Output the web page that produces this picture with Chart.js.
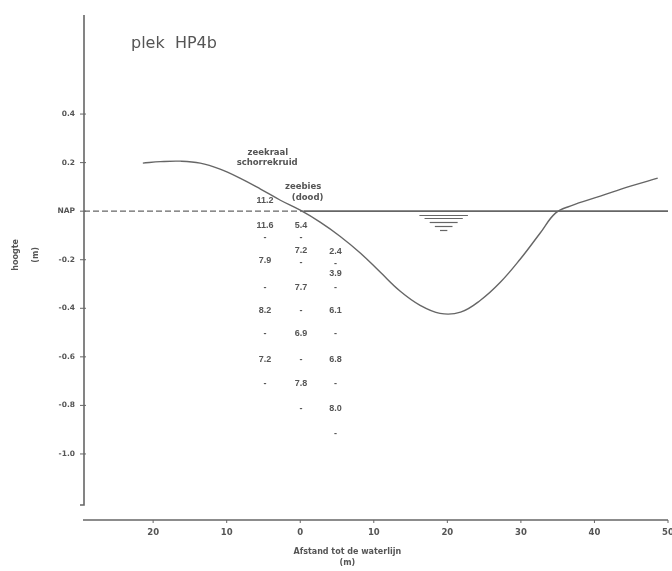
<!DOCTYPE html>
<html>
<head>
<meta charset="utf-8">
<script src="https://cdn.jsdelivr.net/npm/chart.js@4.4.1/dist/chart.umd.min.js"></script>
<style>
  html, body { margin: 0; padding: 0; background: #ffffff; }
  #wrap { width: 672px; height: 571px; position: relative; }
</style>
</head>
<body>
<div id="wrap"><canvas id="c" width="672" height="571"></canvas></div>
<script>
// ---- data ----
const chartTitle = 'plek  HP4b';
const profileDist   = [-21.4, -19.0, -16.3, -13.6, -10.9, -8.2, -5.4, -2.7, 0.0, 2.7, 5.4, 8.2, 10.9, 13.6, 16.3, 19.0, 21.8, 24.5, 27.2, 29.9, 32.6, 34.7, 36.7, 40.8, 44.9, 48.6];
const profileHeight = [0.198, 0.204, 0.206, 0.198, 0.173, 0.136, 0.091, 0.045, 0.004, -0.045, -0.103, -0.173, -0.252, -0.330, -0.388, -0.421, -0.416, -0.367, -0.293, -0.198, -0.091, -0.008, 0.021, 0.062, 0.103, 0.136];

const napDashedDist = [-29.4, 0.5];
const napSolidDist  = [0.5, 50];
const napLevel = 0;

const xTickValues = [-20, -10, 0, 10, 20, 30, 40, 50];
const yTickValues = [0.4, 0.2, 0, -0.2, -0.4, -0.6, -0.8, -1.0];
const yTickLabels = ['0.4', '0.2', 'NAP', '-0.2', '-0.4', '-0.6', '-0.8', '-1.0'];

// vegetation labels
const vegNames   = ['zeekraal', 'schorrekruid', 'zeebies', '(dood)'];
const vegDist    = [-4.4, -4.5, 0.4, 1.0];
const vegHeight  = [0.239, 0.198, 0.099, 0.054];

// measurement columns
const colDist = [-4.8, 0.1, 4.8];
const col1Labels  = ['11.2', '11.6', '-', '7.9', '-', '8.2', '-', '7.2', '-'];
const col1Heights = [0.045, -0.058, -0.107, -0.202, -0.313, -0.408, -0.503, -0.610, -0.709];
const col2Labels  = ['5.4', '-', '7.2', '-', '7.7', '-', '6.9', '-', '7.8', '-'];
const col2Heights = [-0.058, -0.107, -0.161, -0.212, -0.313, -0.408, -0.503, -0.610, -0.709, -0.812];
const col3Labels  = ['2.4', '-', '3.9', '-', '6.1', '-', '6.8', '-', '8.0', '-'];
const col3Heights = [-0.165, -0.214, -0.256, -0.313, -0.408, -0.503, -0.610, -0.709, -0.812, -0.915];

// water symbol (centre, levels, half widths in metres)
const waterCentre = 19.5;
const waterLevels = [-0.015, -0.029, -0.045, -0.061, -0.077];
const waterHalfWidths = [3.3, 2.6, 1.9, 1.2, 0.5];

const xTitle = 'Afstand tot de waterlijn';
const xTitleUnit = '(m)';
const yTitle = 'hoogte';
const yTitleUnit = '(m)';

// ---- chart ----
const INK = '#555555';
const LINE = '#666666';

const toPts = (xs, ys) => xs.map((x, i) => ({ x: x, y: ys[i] }));

const decorPlugin = {
  id: 'decor',
  beforeDraw(chart) {
    const ctx = chart.ctx;
    ctx.save();
    ctx.fillStyle = '#ffffff';
    ctx.fillRect(0, 0, chart.width, chart.height);
    ctx.restore();
  },
  afterDraw(chart) {
    const ctx = chart.ctx;
    const xs = chart.scales.x, ys = chart.scales.y;
    const a = chart.chartArea;
    ctx.save();
    // axes lines
    ctx.strokeStyle = LINE;
    ctx.lineWidth = 1.6;
    ctx.beginPath();
    ctx.moveTo(a.left, a.top);
    ctx.lineTo(a.left, a.bottom - 15);
    ctx.lineTo(a.left - 4, a.bottom - 15);
    ctx.stroke();
    ctx.beginPath();
    ctx.moveTo(a.left - 1, a.bottom);
    ctx.lineTo(a.right, a.bottom);
    ctx.stroke();
    // y tick marks crossing the axis
    ctx.lineWidth = 1;
    yTickValues.forEach(v => {
      const py = ys.getPixelForValue(v);
      ctx.beginPath();
      ctx.moveTo(a.left - 4, py);
      ctx.lineTo(a.left + 2, py);
      ctx.stroke();
    });
    // x tick marks
    xTickValues.forEach(v => {
      const px = xs.getPixelForValue(v);
      ctx.beginPath();
      ctx.moveTo(px, a.bottom);
      ctx.lineTo(px, a.bottom + 3);
      ctx.stroke();
    });

    // water symbol
    ctx.strokeStyle = LINE;
    ctx.lineWidth = 1.2;
    waterLevels.forEach((lv, i) => {
      const py = Math.round(ys.getPixelForValue(lv)) + 0.5;
      ctx.beginPath();
      ctx.moveTo(xs.getPixelForValue(waterCentre - waterHalfWidths[i]), py);
      ctx.lineTo(xs.getPixelForValue(waterCentre + waterHalfWidths[i]), py);
      ctx.stroke();
    });

    // title
    ctx.fillStyle = INK;
    ctx.textBaseline = 'middle';
    ctx.textAlign = 'left';
    ctx.font = '16px "DejaVu Sans"';
    ctx.fillText(chartTitle, 131, 44);

    // vegetation names
    ctx.textAlign = 'center';
    ctx.font = 'bold 8.5px "DejaVu Sans"';
    vegNames.forEach((t, i) => {
      ctx.fillText(t, xs.getPixelForValue(vegDist[i]), ys.getPixelForValue(vegHeight[i]));
    });

    // measurement columns
    ctx.font = 'bold 9px "Liberation Sans"';
    const cols = [[col1Labels, col1Heights], [col2Labels, col2Heights], [col3Labels, col3Heights]];
    cols.forEach((c, ci) => {
      c[0].forEach((t, i) => {
        ctx.fillText(t, xs.getPixelForValue(colDist[ci]), ys.getPixelForValue(c[1][i]));
      });
    });

    // y axis title (rotated)
    ctx.font = 'bold 8px "DejaVu Sans"';
    const ymid = ys.getPixelForValue(-0.18);
    ctx.save();
    ctx.translate(16, ymid);
    ctx.rotate(-Math.PI / 2);
    ctx.fillText(yTitle, 0, 0);
    ctx.restore();
    ctx.save();
    ctx.translate(36, ymid);
    ctx.rotate(-Math.PI / 2);
    ctx.fillText(yTitleUnit, 0, 0);
    ctx.restore();

    // x axis title
    ctx.font = 'bold 8px "DejaVu Sans"';
    const xmid = xs.getPixelForValue(6.4);
    ctx.fillText(xTitle, xmid, 552);
    ctx.fillText(xTitleUnit, xmid, 563);
    ctx.restore();
  }
};

new Chart(document.getElementById('c'), {
  type: 'line',
  data: {
    datasets: [
      {
        label: 'profiel',
        data: toPts(profileDist, profileHeight),
        borderColor: LINE,
        borderWidth: 1.4,
        pointRadius: 0,
        tension: 0.4,
        fill: false
      },
      {
        label: 'NAP (land)',
        data: toPts(napDashedDist, napDashedDist.map(() => napLevel)),
        borderColor: LINE,
        borderWidth: 1.4,
        borderDash: [6, 3],
        pointRadius: 0
      },
      {
        label: 'NAP (water)',
        data: toPts(napSolidDist, napSolidDist.map(() => napLevel)),
        borderColor: LINE,
        borderWidth: 1.6,
        pointRadius: 0
      }
    ]
  },
  options: {
    responsive: false,
    animation: false,
    devicePixelRatio: 1,
    layout: { padding: { top: 15, right: 4, left: 0, bottom: 0 } },
    plugins: { legend: { display: false }, tooltip: { enabled: false } },
    scales: {
      x: {
        type: 'linear',
        min: -29.4,
        max: 50,
        border: { display: false },
        grid: { display: false, drawTicks: false },
        afterBuildTicks: s => { s.ticks = xTickValues.map(v => ({ value: v })); },
        afterFit: s => { s.height = 51; s.paddingLeft = 0; s.paddingRight = 0; },
        ticks: {
          color: INK,
          padding: 8,
          maxRotation: 0,
          autoSkip: false,
          font: { family: 'DejaVu Sans', size: 8.5, weight: 'bold' },
          callback: v => String(Math.abs(v))
        }
      },
      y: {
        type: 'linear',
        min: -1.272,
        max: 0.808,
        border: { display: false },
        grid: { display: false, drawTicks: false },
        afterBuildTicks: s => { s.ticks = yTickValues.map(v => ({ value: v })); },
        afterFit: s => { s.width = 84; s.paddingTop = 0; s.paddingBottom = 0; },
        ticks: {
          color: INK,
          padding: 9,
          autoSkip: false,
          font: { family: 'DejaVu Sans', size: 7.5, weight: 'bold' },
          callback: (v, i) => yTickLabels[i]
        }
      }
    }
  },
  plugins: [decorPlugin]
});
</script>
</body>
</html>
